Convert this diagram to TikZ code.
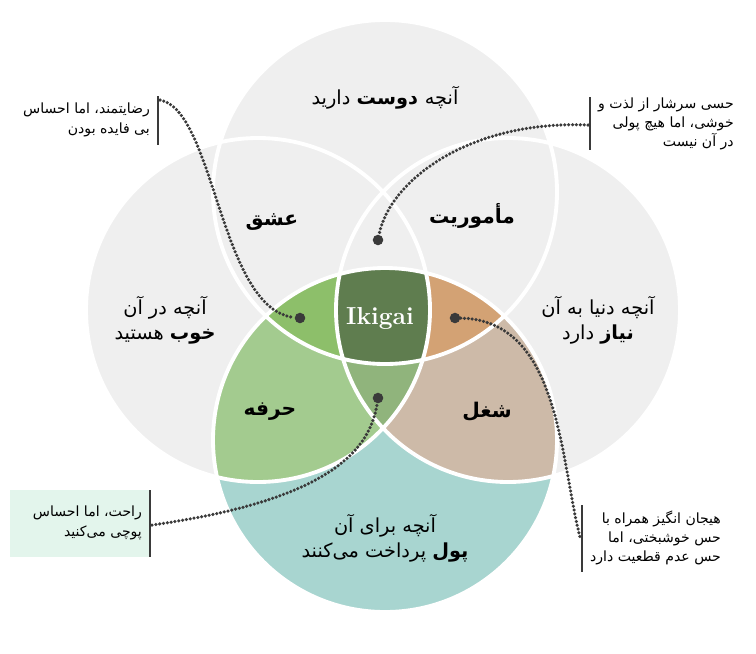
\documentclass[tikz,border=0pt]{standalone}
\usepackage{fontspec}
\newfontfamily\farsi[Script=Arabic]{DejaVu Sans}
\TeXXeTstate=1
\newcommand{\fa}[1]{{\farsi\beginR #1\endR}}
\usetikzlibrary{positioning}
\definecolor{ringgray}{HTML}{EFEFEF}
\definecolor{moneyteal}{HTML}{A8D5D0}
\definecolor{profgreen}{HTML}{A3CB8F}
\definecolor{passgreen}{HTML}{8DBF6A}
\definecolor{mixgreen}{HTML}{90B47C}
\definecolor{coregreen}{HTML}{5F7D4F}
\definecolor{vocorange}{HTML}{D3A274}
\definecolor{jobtan}{HTML}{CDBAA8}
\definecolor{boxmint}{HTML}{E3F5EC}
\definecolor{inkgray}{HTML}{3A3A3A}
\begin{document}
\begin{tikzpicture}[x=0.02cm,y=-0.02cm,
  region/.style={font=\fontsize{11}{14}\selectfont\farsi,align=center},
  regionb/.style={font=\fontsize{11.5}{14}\selectfont\farsi\bfseries,align=center},
  note/.style={font=\fontsize{8}{11}\selectfont\farsi,align=right,inner sep=1pt},
  bar/.style={line width=1.2pt,inkgray},
  trail/.style={inkgray,line width=2pt,dash pattern=on 0pt off 2.2pt,line cap=round},
  spot/.style={circle,fill=inkgray,inner sep=0pt,minimum size=6pt}]
  \useasboundingbox (0,0) rectangle (756,653);
  \def\rr{172}
  \def\topc{(385,192) circle (\rr)}
  \def\leftc{(258,310) circle (\rr)}
  \def\rightc{(508,310) circle (\rr)}
  \def\botc{(385,440) circle (\rr)}
  % grey rings
  \fill[ringgray] \topc; \fill[ringgray] \leftc; \fill[ringgray] \rightc;
  % coloured parts of the money ring
  \fill[moneyteal] \botc;
  \begin{scope}\clip \botc;
    \fill[profgreen] \leftc;
    \fill[jobtan] \rightc;
    \begin{scope}\clip \leftc; \fill[mixgreen] \rightc; \fill[passgreen] \topc; \end{scope}
    \begin{scope}\clip \rightc; \fill[vocorange] \topc; \end{scope}
    \begin{scope}\clip \leftc; \clip \rightc; \fill[coregreen] \topc; \end{scope}
  \end{scope}
  % white borders
  \foreach \c in {\topc,\leftc,\rightc,\botc} \draw[white,line width=2.2pt] \c;
  % labels
  \node[region] (love) at (385,98) {\fa{آنچه \textbf{دوست} دارید}};
  \node[regionb] (passion) at (272,222) {\fa{عشق}};
  \node[regionb] (mission) at (472,216) {\fa{مأموریت}};
  \node[region] (good) at (165,320) {\fa{آنچه در آن}\\\fa{\textbf{خوب} هستید}};
  \node[region] (need) at (598,320) {\fa{آنچه دنیا به آن}\\\fa{\textbf{نیاز} دارد}};
  \node[font=\fontsize{14}{16}\selectfont\rmfamily\bfseries,white] (core) at (380,318) {Ikigai};
  \node[regionb] (profession) at (270,412) {\fa{حرفه}};
  \node[regionb] (vocation) at (487,412) {\fa{شغل}};
  \node[region] (paid) at (385,538) {\fa{آنچه برای آن}\\\fa{\textbf{پول} پرداخت می‌کنند}};
  % callouts
  \fill[boxmint] (10,490) rectangle (150,557);
  \node[note,anchor=east] (n1) at (152,120) {\fa{رضایتمند، اما احساس}\\\fa{بی فایده بودن}};
  \node[note,anchor=west] (n2) at (596,124) {\fa{حسی سرشار از لذت و}\\\fa{خوشی، اما هیچ پولی}\\\fa{در آن نیست}};
  \node[note,anchor=east] (n3) at (144,523) {\fa{راحت، اما احساس}\\\fa{پوچی می‌کنید}};
  \node[note,anchor=west] (n4) at (588,538) {\fa{هیجان انگیز همراه با}\\\fa{حس خوشبختی، اما}\\\fa{حس عدم قطعیت دارد}};
  \draw[bar] (158,96) -- (158,145);
  \draw[bar] (590,97) -- (590,150);
  \draw[bar] (150,490) -- (150,557);
  \draw[bar] (582,505) -- (582,572);
  \node[spot] (d1) at (300,318) {};
  \node[spot] (d2) at (378,240) {};
  \node[spot] (d3) at (378,398) {};
  \node[spot] (d4) at (455,318) {};
  \coordinate (e1) at (160,100);
  \coordinate (e2) at (588,125);
  \coordinate (e3) at (152,525);
  \coordinate (e4) at (580,537);
  \draw[trail] (e1) .. controls (215,110) and (220,310) .. (d1);
  \draw[trail] (e2) .. controls (470,120) and (390,180) .. (d2);
  \draw[trail] (e3) .. controls (330,500) and (370,450) .. (d3);
  \draw[trail] (d4) .. controls (560,320) and (560,460) .. (e4);
\end{tikzpicture}
\end{document}
